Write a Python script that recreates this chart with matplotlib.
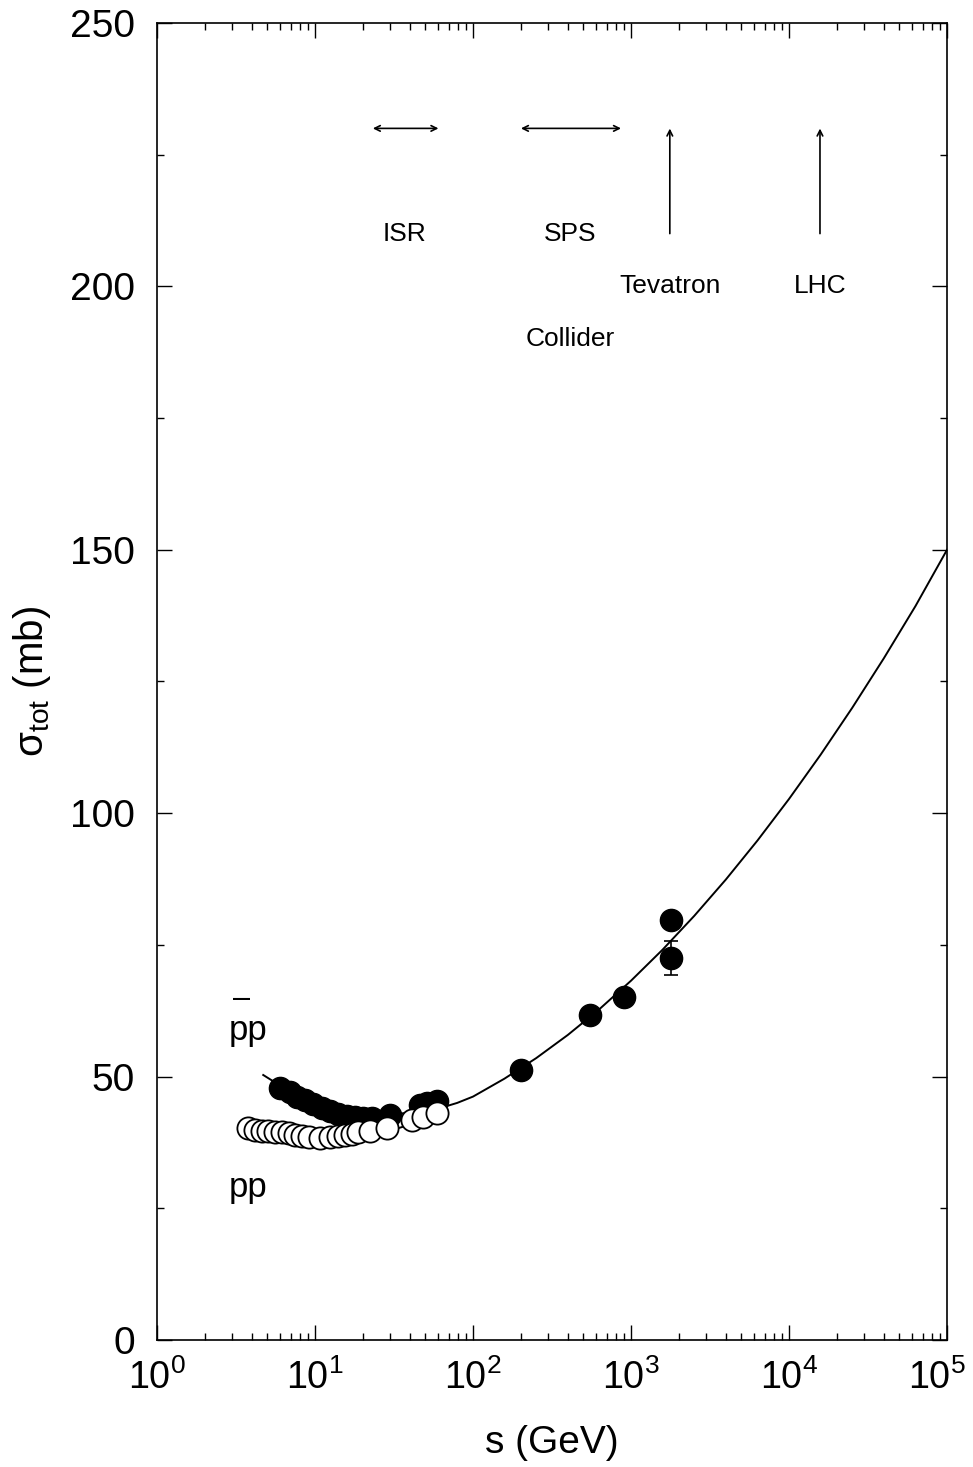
import numpy as np
import matplotlib
matplotlib.use('Agg')
import matplotlib.pyplot as plt
from matplotlib import font_manager
from matplotlib.transforms import ScaledTranslation
from matplotlib.ticker import LogLocator, MultipleLocator, NullFormatter

# condensed face for the tick numbers if the system has it
try:
    font_manager.findfont('Liberation Sans Narrow', fallback_to_default=False)
    NUM_FONT, NUM_SCALE = 'Liberation Sans Narrow', 1.0
except ValueError:
    NUM_FONT, NUM_SCALE = 'Liberation Sans', 0.85

plt.rcParams['font.family'] = ['Liberation Sans', 'DejaVu Sans']
plt.rcParams['mathtext.fontset'] = 'custom'
plt.rcParams['mathtext.rm'] = NUM_FONT
plt.rcParams['mathtext.it'] = NUM_FONT
plt.rcParams['mathtext.bf'] = NUM_FONT

# pp total cross section (open circles)
pp_s = [3.78, 4.17, 4.59, 5.06, 5.6, 6.15, 6.8, 7.5, 8.3, 9.1, 10.8, 12.4, 14.0,
        15.5, 17.1, 18.8, 22.3, 28.5, 40.9, 48.3, 58.9]
pp_sig = [40.2, 39.9, 39.7, 39.6, 39.5, 39.5, 39.2, 38.9, 38.7, 38.6, 38.4, 38.6, 38.7,
          38.9, 39.1, 39.4, 39.7, 40.2, 41.8, 42.4, 43.0]

# pbar-p total cross section (filled circles)
pbp_s = [6.0, 6.9, 7.7, 8.6, 9.7, 11.1, 12.4, 14.0, 15.9, 17.9, 20.1, 22.9, 29.8,
         46.1, 51.2, 58.9, 200, 546, 900, 1800]
pbp_sig = [47.8, 47.1, 46.1, 45.6, 44.8, 44.0, 43.5, 42.9, 42.5, 42.3, 42.1, 42.1, 42.7,
           44.6, 45.0, 45.4, 51.3, 61.7, 65.1, 79.7]

# E710 point at 1.8 TeV with its error bar
e710_s = [1800]
e710_sig = [72.5]
e710_err = [3.2]

# fitted curves
fit_s = [4.7, 6.0, 8.0, 11.0, 16.0, 25.0, 40.0, 60.0, 79.4, 100, 158, 251, 398, 631,
         1000, 1585, 2512, 3981, 6310, 10000, 15849, 25119, 39811, 63096, 100000]
fit_sig = [50.3, 48.3, 45.8, 44.2, 43.2, 42.8, 43.1, 43.9, 45.0, 46.2, 49.6, 53.5, 57.9,
           62.8, 68.2, 74.1, 80.5, 87.4, 94.8, 102.7, 111.1, 120.0, 129.4, 139.3, 150.0]
fit_pp_s = [4.0, 6.0, 10.0, 15.0, 25.0, 40.0, 58.9]
fit_pp_sig = [39.3, 38.4, 38.0, 38.1, 39.0, 40.9, 43.4]

# accelerator ranges
isr = (22.3, 62.9)
sps = (193, 900)
tevatron = 1760
lhc = 15700

fig = plt.figure(figsize=(9.73, 14.67), dpi=100)
ax = fig.add_axes([0.1614, 0.0866, 0.8119, 0.8977])

ax.plot(fit_pp_s, fit_pp_sig, color='black', lw=1.4, zorder=2)
ax.plot(fit_s, fit_sig, color='black', lw=1.4, zorder=2)
ax.plot(pbp_s, pbp_sig, 'o', color='black', ms=16, zorder=3)
ax.errorbar(e710_s, e710_sig, yerr=e710_err, fmt='o', color='black', ms=16,
            capsize=5, elinewidth=1.2, capthick=1.2, zorder=3)
ax.plot(pp_s, pp_sig, 'o', mfc='white', mec='black', mew=1.3, ms=16, zorder=4)

arrow = dict(arrowstyle='<->', color='black', lw=1.2, mutation_scale=10)
ax.annotate('', xy=(isr[0], 230), xytext=(isr[1], 230), arrowprops=arrow)
ax.annotate('', xy=(sps[0], 230), xytext=(sps[1], 230), arrowprops=arrow)
up = dict(arrowstyle='->', color='black', lw=1.2, mutation_scale=10)
ax.annotate('', xy=(tevatron, 230.5), xytext=(tevatron, 209.5), arrowprops=up)
ax.annotate('', xy=(lhc, 230.5), xytext=(lhc, 209.5), arrowprops=up)

tk = dict(fontsize=19, ha='center', va='center')
ax.text(37.1, 210, 'ISR', **tk)
ax.text(410, 210, 'SPS', **tk)
ax.text(tevatron, 200, 'Tevatron', **tk)
ax.text(lhc, 200, 'LHC', **tk)
ax.text(415, 190, 'Collider', **tk)

# antiproton-proton label: "pp" with a bar over the first p
ax.text(3.75, 58.8, 'pp', fontsize=25, ha='center', va='center')
ax.text(3.45, 64.8, '\u2013', fontsize=22, ha='center', va='center')
ax.text(3.75, 29.0, 'pp', fontsize=25, ha='center', va='center')

ax.set_xscale('log')
ax.set_xlim(1, 1e5)
ax.set_ylim(0, 250)
ax.xaxis.set_major_locator(LogLocator(base=10, numticks=10))
ax.xaxis.set_minor_locator(LogLocator(base=10, subs=np.arange(2, 10), numticks=20))
ax.xaxis.set_minor_formatter(NullFormatter())
ax.yaxis.set_major_locator(MultipleLocator(50))
ax.yaxis.set_minor_locator(MultipleLocator(25))

ax.tick_params(which='both', direction='in', top=True, right=True, width=1.0)
ax.tick_params(which='major', length=11)
ax.tick_params(which='minor', length=5)
ax.tick_params(axis='y', labelsize=28, pad=16)
ax.tick_params(axis='x', labelsize=32 * NUM_SCALE, pad=14)
for lab in ax.get_yticklabels():
    lab.set_fontfamily(NUM_FONT)
for sp in ax.spines.values():
    sp.set_linewidth(1.2)

ax.set_xlabel('s (GeV)', fontsize=28, labelpad=20)
ax.set_ylabel('\u03c3$_{\\mathrm{tot}}$ (mb)', fontsize=29, labelpad=12)

# keep the 10^5 label inside the figure edge
fig.canvas.draw()
for tick in ax.xaxis.get_major_ticks():
    if np.isclose(tick.get_loc(), 1e5):
        lab = tick.label1
        lab.set_transform(lab.get_transform() + ScaledTranslation(-7 / 72, 0, fig.dpi_scale_trans))

fig.savefig('out.png', dpi=100)
